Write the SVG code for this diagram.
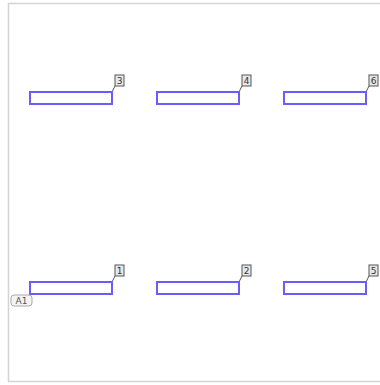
<svg xmlns="http://www.w3.org/2000/svg" width="380" height="385" viewBox="0 0 380 385">
<style>
.frame{fill:#fff;stroke:#d4d4d4;stroke-width:1.5}
.bar{fill:#fff;stroke:#6a5cff;stroke-width:2}
.tag{fill:#e8e8e8;stroke:#555;stroke-width:1}
.tagt{font-family:"DejaVu Sans",sans-serif;font-size:9px;fill:#333;text-anchor:middle}
.lead{stroke:#555;stroke-width:1;fill:none}
.a1{fill:#f4f4f4;stroke:#aaa;stroke-width:1}
.a1t{font-family:"DejaVu Sans",sans-serif;font-size:9px;fill:#555;text-anchor:middle}
</style>
<rect class="frame" x="8.5" y="3.5" width="375" height="378"/>
<g id="connectors">
<line class="lead" x1="112" y1="92" x2="115" y2="86"/>
<line class="lead" x1="239" y1="92" x2="242" y2="86"/>
<line class="lead" x1="366" y1="92" x2="369" y2="86"/>
<line class="lead" x1="112" y1="282" x2="115" y2="276"/>
<line class="lead" x1="239" y1="282" x2="242" y2="276"/>
<line class="lead" x1="366" y1="282" x2="369" y2="276"/>
</g>
<g id="n3"><rect class="bar" x="30" y="92" width="82" height="12"/><rect class="tag" x="115" y="75" width="9" height="11"/><text class="tagt" x="119.5" y="84">3</text></g>
<g id="n4"><rect class="bar" x="157" y="92" width="82" height="12"/><rect class="tag" x="242" y="75" width="9" height="11"/><text class="tagt" x="246.5" y="84">4</text></g>
<g id="n6"><rect class="bar" x="284" y="92" width="82" height="12"/><rect class="tag" x="369" y="75" width="9" height="11"/><text class="tagt" x="373.5" y="84">6</text></g>
<g id="n1"><rect class="bar" x="30" y="282" width="82" height="12"/><rect class="tag" x="115" y="265" width="9" height="11"/><text class="tagt" x="119.5" y="274">1</text></g>
<g id="n2"><rect class="bar" x="157" y="282" width="82" height="12"/><rect class="tag" x="242" y="265" width="9" height="11"/><text class="tagt" x="246.5" y="274">2</text></g>
<g id="n5"><rect class="bar" x="284" y="282" width="82" height="12"/><rect class="tag" x="369" y="265" width="9" height="11"/><text class="tagt" x="373.5" y="274">5</text></g>
<g id="a1"><rect class="a1" x="11" y="295" width="21" height="11" rx="3"/><text class="a1t" x="21.5" y="304">A1</text></g>
</svg>
